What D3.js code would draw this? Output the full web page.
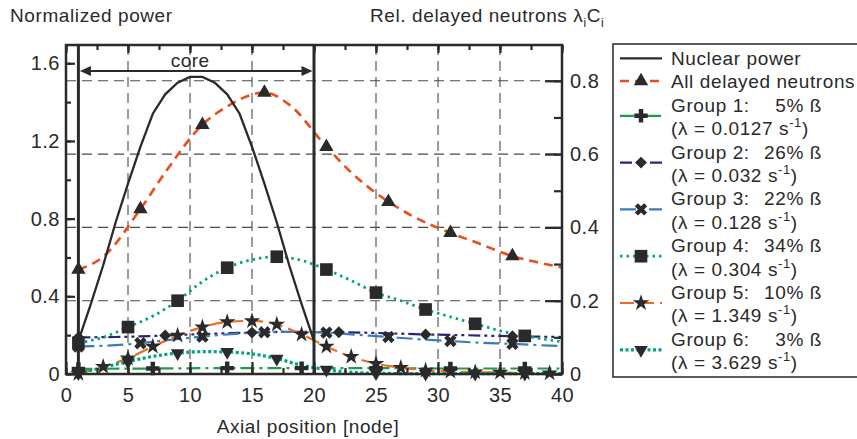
<!DOCTYPE html>
<html>
<head>
<meta charset="utf-8">
<script src="https://cdn.jsdelivr.net/npm/d3@7"></script>
<style>
  body { margin: 0; background: #fff; }
  svg { display: block; font-family: "Liberation Sans", Arial, sans-serif; }
</style>
</head>
<body>
<svg id="chart" width="857" height="439"></svg>
<script>
// nuclear power, left axis
var powerNodes = [1, 2, 3, 4, 5, 6, 7, 8, 9, 10, 11, 12, 13, 14, 15, 16, 17, 18, 19, 20];
var powerValues = [0.17, 0.36, 0.56, 0.78, 0.98, 1.17, 1.34, 1.44, 1.50, 1.53, 1.53, 1.50, 1.44, 1.34, 1.17, 0.98, 0.78, 0.56, 0.36, 0.17];

// delayed neutrons, right axis
var allNodes = [1, 3, 6, 8, 11, 13, 16, 18, 21, 23, 26, 28, 31, 33, 36, 38, 40];
var allValues = [0.285, 0.32, 0.45, 0.55, 0.68, 0.73, 0.768, 0.735, 0.62, 0.55, 0.47, 0.43, 0.385, 0.36, 0.322, 0.305, 0.291];
var allMarks = [1, 6, 11, 16, 21, 26, 31, 36];

var g1Nodes = [1, 7, 13, 19, 25, 31, 37, 40];
var g1Values = [0.014, 0.015, 0.016, 0.016, 0.016, 0.015, 0.015, 0.015];
var g1Marks = [1, 7, 13, 19, 25, 31, 37];

var g2Nodes = [1, 4, 8, 11, 15, 18, 22, 25, 29, 32, 36, 40];
var g2Values = [0.100, 0.101, 0.105, 0.109, 0.113, 0.115, 0.114, 0.112, 0.108, 0.106, 0.103, 0.101];
var g2Marks = [1, 8, 15, 22, 29, 36];

var g3Nodes = [1, 3, 6, 8, 11, 13, 16, 18, 21, 23, 26, 28, 31, 33, 36, 38, 40];
var g3Values = [0.075, 0.077, 0.084, 0.092, 0.102, 0.108, 0.114, 0.115, 0.113, 0.108, 0.101, 0.096, 0.090, 0.086, 0.082, 0.079, 0.076];
var g3Marks = [1, 6, 11, 16, 21, 26, 31, 36];

var g4Nodes = [1, 3, 5, 7, 9, 11, 13, 15, 17, 19, 21, 23, 25, 27, 29, 31, 33, 35, 37, 40];
var g4Values = [0.085, 0.100, 0.128, 0.158, 0.200, 0.252, 0.290, 0.312, 0.320, 0.310, 0.285, 0.255, 0.222, 0.200, 0.176, 0.156, 0.137, 0.118, 0.104, 0.088];
var g4Marks = [1, 5, 9, 13, 17, 21, 25, 29, 33, 37];

var g5Nodes = [1, 3, 5, 7, 9, 11, 13, 15, 17, 19, 21, 23, 25, 27, 29, 31, 33, 35, 37, 39, 40];
var g5Values = [0.001, 0.020, 0.043, 0.075, 0.105, 0.128, 0.142, 0.145, 0.135, 0.108, 0.075, 0.047, 0.028, 0.017, 0.010, 0.007, 0.005, 0.004, 0.003, 0.002, 0.002];
var g5Marks = [1, 3, 5, 7, 9, 11, 13, 15, 17, 19, 21, 23, 25, 27, 29, 31, 33, 35, 37, 39];

var g6Nodes = [1, 3, 5, 7, 9, 11, 13, 15, 17, 19, 21, 23, 25, 29, 33, 37, 40];
var g6Values = [0.002, 0.018, 0.034, 0.048, 0.057, 0.061, 0.060, 0.055, 0.042, 0.024, 0.012, 0.005, 0.002, 0.001, 0.001, 0.001, 0.001];
var g6Marks = [1, 5, 9, 13, 17, 21, 25, 29, 33, 37];

var xTicks = [0, 5, 10, 15, 20, 25, 30, 35, 40];
var leftTicks = [0, 0.4, 0.8, 1.2, 1.6];
var rightTicks = [0, 0.2, 0.4, 0.6, 0.8];
var coreBounds = [1, 20];

var groupNames = ['Group 1:', 'Group 2:', 'Group 3:', 'Group 4:', 'Group 5:', 'Group 6:'];
var groupShares = ['5% ß', '26% ß', '22% ß', '34% ß', '10% ß', '3% ß'];
var groupLambdas = ['0.0127', '0.032', '0.128', '0.304', '1.349', '3.629'];

var svg = d3.select('#chart');
var pLeft = 66, pRight = 562, pTop = 45, pBottom = 374;
var ink = '#2a2a2a';

var x = d3.scaleLinear().domain([0, 40]).range([pLeft, pRight]);
var yL = d3.scaleLinear().domain([0, 1.694]).range([pBottom, pTop]);
var yR = d3.scaleLinear().domain([0, 0.8977]).range([pBottom, pTop]);

function pts(nodes, values) {
    return nodes.map((n, i) => ({ n: n, v: values[i] }));
}

var series = [
    { key: 'g1', data: pts(g1Nodes, g1Values), marks: g1Marks, color: '#1a9e4b', dash: '14,5,3,5', w: 2.2, sym: d3.symbolCross, rot: 0, size: 100 },
    { key: 'g2', data: pts(g2Nodes, g2Values), marks: g2Marks, color: '#2e2277', dash: '12,4,3,4,3,4', w: 2.2, sym: d3.symbolSquare, rot: 45, size: 70 },
    { key: 'g3', data: pts(g3Nodes, g3Values), marks: g3Marks, color: '#3b7bbf', dash: '16,5,3,5', w: 2.2, sym: d3.symbolCross, rot: 45, size: 95 },
    { key: 'g4', data: pts(g4Nodes, g4Values), marks: g4Marks, color: '#00a383', dash: '2.5,4', w: 2.8, sym: d3.symbolSquare, rot: 0, size: 160 },
    { key: 'g5', data: pts(g5Nodes, g5Values), marks: g5Marks, color: '#f06a22', dash: '14,6', w: 2.2, sym: d3.symbolStar, rot: 0, size: 85 },
    { key: 'g6', data: pts(g6Nodes, g6Values), marks: g6Marks, color: '#00a383', dash: '3,2.5', w: 3.2, sym: d3.symbolTriangle, rot: 180, size: 80 },
    { key: 'all', data: pts(allNodes, allValues), marks: allMarks, color: '#e84e1b', dash: '9,6', w: 2.6, sym: d3.symbolTriangle, rot: 0, size: 90 }
];

// grid
var grid = svg.append('g').attr('stroke', '#4a4a4a').attr('stroke-width', 1.1).attr('stroke-dasharray', '10,6');
grid.selectAll('line.v')
    .data(xTicks.filter(d => d > 0 && d < 40))
    .enter().append('line')
    .attr('x1', d => x(d)).attr('x2', d => x(d))
    .attr('y1', pTop).attr('y2', pBottom);
grid.selectAll('line.h')
    .data(rightTicks.filter(d => d > 0))
    .enter().append('line')
    .attr('x1', pLeft).attr('x2', pRight)
    .attr('y1', d => yR(d)).attr('y2', d => yR(d));

// curves
var lineR = d3.line().x(d => x(d.n)).y(d => yR(d.v)).curve(d3.curveMonotoneX);
var lineL = d3.line().x(d => x(d.n)).y(d => yL(d.v));

series.forEach(function(s) {
    svg.append('path')
        .datum(s.data)
        .attr('d', lineR)
        .attr('fill', 'none')
        .attr('stroke', s.color)
        .attr('stroke-width', s.w)
        .attr('stroke-dasharray', s.dash);
});

svg.append('path')
    .datum(pts(powerNodes, powerValues))
    .attr('d', lineL)
    .attr('fill', 'none')
    .attr('stroke', ink)
    .attr('stroke-width', 2.3);

// markers
series.forEach(function(s) {
    var sym = d3.symbol().type(s.sym).size(s.size);
    svg.append('g').selectAll('path')
        .data(s.data.filter(d => s.marks.includes(d.n)))
        .enter().append('path')
        .attr('d', sym)
        .attr('fill', ink)
        .attr('transform', d => 'translate(' + x(d.n) + ',' + yR(d.v) + ') rotate(' + s.rot + ')');
});

// core bounds
svg.selectAll('line.core')
    .data(coreBounds)
    .enter().append('line')
    .attr('x1', d => x(d)).attr('x2', d => x(d))
    .attr('y1', pTop).attr('y2', pBottom)
    .attr('stroke', ink)
    .attr('stroke-width', 3);

var ay = 71;
var ax1 = x(coreBounds[0]) + 1.5, ax2 = x(coreBounds[1]) - 1.5;
svg.append('line')
    .attr('x1', ax1 + 8).attr('x2', ax2 - 8)
    .attr('y1', ay).attr('y2', ay)
    .attr('stroke', ink).attr('stroke-width', 1.8);
svg.append('path')
    .attr('d', 'M' + ax1 + ',' + ay + 'l11,-5l0,10z M' + ax2 + ',' + ay + 'l-11,-5l0,10z')
    .attr('fill', ink);
svg.append('text')
    .attr('x', (x(coreBounds[0]) + x(coreBounds[1])) / 2 - 6)
    .attr('y', 67)
    .attr('text-anchor', 'middle')
    .attr('font-size', '19px')
    .attr('letter-spacing', '0.5px')
    .attr('fill', ink)
    .text('core');

// axes
function styleAxis(g) {
    g.select('.domain').remove();
    g.selectAll('.tick line').attr('stroke', ink).attr('stroke-width', 2.2);
    g.selectAll('.tick text').attr('fill', ink).attr('font-size', '20px')
        .attr('font-family', '"Liberation Sans", Arial, sans-serif').attr('letter-spacing', '0.5px');
}
var fmt = d => d === 0 ? '0' : d.toFixed(1);

svg.append('g').attr('transform', 'translate(' + pLeft + ',0)')
    .call(d3.axisLeft(yL).tickValues(d3.range(0, 1.69, 0.2)).tickSize(-5).tickFormat(''))
    .call(styleAxis);
svg.append('g').attr('transform', 'translate(' + pLeft + ',0)')
    .call(d3.axisLeft(yL).tickValues(leftTicks).tickSize(-9).tickPadding(6).tickFormat(fmt))
    .call(styleAxis);

svg.append('g').attr('transform', 'translate(' + pRight + ',0)')
    .call(d3.axisRight(yR).tickValues(d3.range(0, 0.89, 0.1)).tickSize(-8).tickFormat(''))
    .call(styleAxis);
svg.append('g').attr('transform', 'translate(' + pRight + ',0)')
    .call(d3.axisRight(yR).tickValues(rightTicks).tickSize(-17).tickPadding(8).tickFormat(fmt))
    .call(styleAxis);

svg.append('g').attr('transform', 'translate(0,' + pBottom + ')')
    .call(d3.axisBottom(x).tickValues(d3.range(0, 40.1, 2.5)).tickSize(-6).tickFormat(''))
    .call(styleAxis);
svg.append('g').attr('transform', 'translate(0,' + pBottom + ')')
    .call(d3.axisBottom(x).tickValues(xTicks).tickSize(-12).tickPadding(14).tickFormat(d3.format('d')))
    .call(styleAxis);

svg.append('g').attr('transform', 'translate(0,' + pTop + ')')
    .call(d3.axisTop(x).tickValues(d3.range(0, 40.1, 2.5)).tickSize(-5).tickFormat(''))
    .call(styleAxis);
svg.append('g').attr('transform', 'translate(0,' + pTop + ')')
    .call(d3.axisTop(x).tickValues(xTicks).tickSize(-8).tickFormat(''))
    .call(styleAxis);

svg.append('rect')
    .attr('x', pLeft).attr('y', pTop)
    .attr('width', pRight - pLeft).attr('height', pBottom - pTop)
    .attr('fill', 'none').attr('stroke', ink).attr('stroke-width', 2.5);

// titles
svg.append('text')
    .attr('x', 10).attr('y', 22)
    .attr('font-size', '19px').attr('letter-spacing', '0.6px').attr('fill', ink)
    .text('Normalized power');

var rt = svg.append('text')
    .attr('x', 370).attr('y', 22)
    .attr('font-size', '19px').attr('letter-spacing', '0.6px').attr('fill', ink);
rt.append('tspan').text('Rel. delayed neutrons λ');
rt.append('tspan').attr('font-size', '12px').attr('dy', 5).text('i');
rt.append('tspan').attr('dy', -5).text('C');
rt.append('tspan').attr('font-size', '12px').attr('dy', 5).text('i');

svg.append('text')
    .attr('x', 308).attr('y', 433)
    .attr('text-anchor', 'middle')
    .attr('font-size', '19px').attr('letter-spacing', '0.6px').attr('fill', ink)
    .text('Axial position [node]');

// legend
var lg = svg.append('g');
lg.append('rect')
    .attr('x', 613).attr('y', 44)
    .attr('width', 260).attr('height', 333)
    .attr('fill', '#fff').attr('stroke', '#333').attr('stroke-width', 1.6);

var tx = 671, sx1 = 620, sx2 = 662;
function base(i) { return 65 + 23.4 * i; }
function legText(y) {
    return lg.append('text')
        .attr('x', tx).attr('y', y)
        .attr('font-size', '19px').attr('letter-spacing', '0.6px').attr('fill', ink);
}
function sample(y, s) {
    lg.append('line')
        .attr('x1', sx1).attr('x2', sx2).attr('y1', y).attr('y2', y)
        .attr('stroke', s ? s.color : ink)
        .attr('stroke-width', s ? s.w : 2.3)
        .attr('stroke-dasharray', s ? s.dash : null);
    if (s) {
        lg.append('path')
            .attr('d', d3.symbol().type(s.sym).size(s.size))
            .attr('fill', ink)
            .attr('transform', 'translate(' + (sx1 + sx2) / 2 + ',' + y + ') rotate(' + s.rot + ')');
    }
}

sample(58.3, null);
legText(base(0)).text('Nuclear power');
sample(81, series[6]);
legText(base(1)).text('All delayed neutrons');

groupNames.forEach(function(name, i) {
    var b = base(2 + i * 2);
    sample(b + 4, series[i]);
    legText(b).text(name);
    lg.append('text')
        .attr('x', 822).attr('y', b)
        .attr('text-anchor', 'end')
        .attr('font-size', '19px').attr('letter-spacing', '0.6px').attr('fill', ink)
        .text(groupShares[i]);
    var t = legText(base(3 + i * 2));
    t.append('tspan').text('(λ = ' + groupLambdas[i] + ' s');
    t.append('tspan').attr('font-size', '13px').attr('dy', -8).text('-1');
    t.append('tspan').attr('dy', 8).text(')');
});
</script>
</body>
</html>
